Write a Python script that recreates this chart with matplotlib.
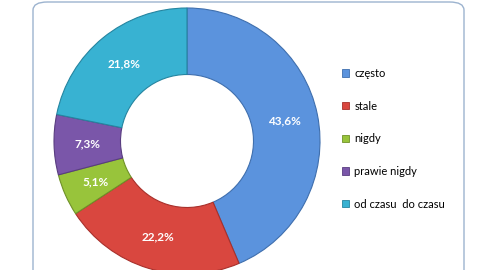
import matplotlib.pyplot as plt
from matplotlib.patches import FancyBboxPatch, Patch

plt.rcParams['font.family'] = ['Lato', 'DejaVu Sans']

labels = ["często", "stale", "nigdy", "prawie nigdy", "od czasu  do czasu"]
values = [43.6, 22.2, 5.1, 7.3, 21.8]
colors = ["#5b93dd", "#d9473f", "#98c43b", "#7a56a9", "#38b2d2"]
edges = ["#3f6fae", "#a8302b", "#6f9128", "#593d80", "#2585a0"]

W, H = 481, 270
fig = plt.figure(figsize=(W / 100, H / 100), dpi=100)

# rounded chart frame
frame = FancyBboxPatch((33 / W, -0.2), (464 - 33) / W, 1.2 - 2 / H,
                       boxstyle="round,pad=0,rounding_size=0.03",
                       transform=fig.transFigure, facecolor="none",
                       edgecolor="#9cb3cf", linewidth=1.0, zorder=-1)
fig.patches.append(frame)

cx, cy, r = 187, 270 - 141, 133
ax = fig.add_axes([(cx - r) / W, (cy - r) / H, 2 * r / W, 2 * r / H])
wedges, _, autotexts = ax.pie(
    values, colors=colors, startangle=90, counterclock=False,
    autopct=lambda p: f"{p:.1f}%".replace(".", ","), pctdistance=0.75,
    wedgeprops=dict(width=0.5, linewidth=0.8),
    textprops=dict(color="white", fontsize=8.5, fontweight="bold"))
for w, ec in zip(wedges, edges):
    w.set_edgecolor(ec)
ax.set_xlim(-1, 1)
ax.set_ylim(-1, 1)
ax.set_aspect("equal")
ax.axis("off")

handles = [Patch(facecolor=c, edgecolor=e, linewidth=0.6) for c, e in zip(colors, edges)]
fig.legend(handles, labels, loc="upper left", bbox_to_anchor=(342 / W, 1 - 68 / H),
           frameon=False, fontsize=8, handlelength=0.65, handleheight=0.65,
           handletextpad=0.45, labelspacing=1.95, borderpad=0, borderaxespad=0)

fig.savefig("out.png", dpi=100)
